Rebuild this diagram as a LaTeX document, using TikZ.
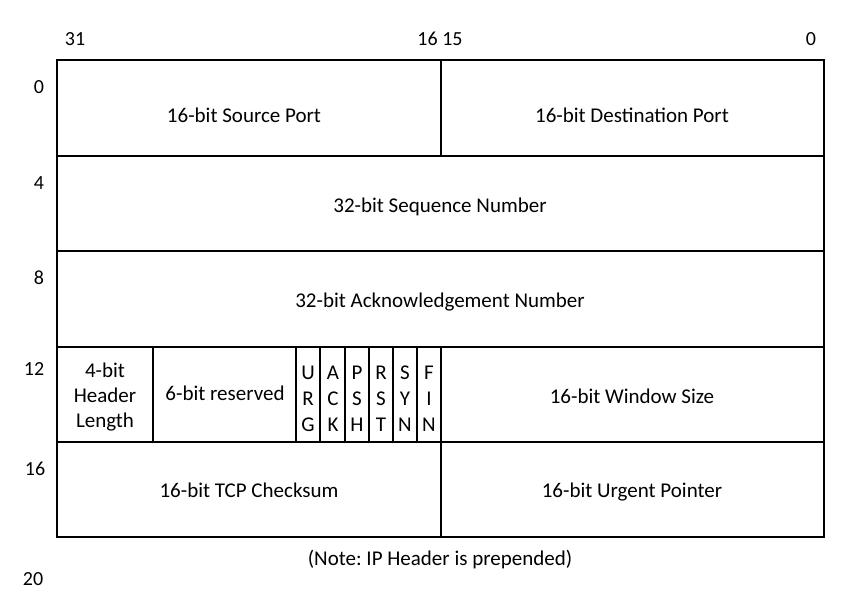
\documentclass[tikz,border=0pt]{standalone}
\usepackage{fontspec}
\setmainfont{Carlito}
\frenchspacing
\begin{document}
\begin{tikzpicture}[x=1pt,y=-1pt,
  field/.style={font=\fontsize{21}{25}\selectfont, align=center, inner sep=0pt},
  flagbox/.style={field, font=\fontsize{21}{26}\selectfont},
  label/.style={field, text height=1.45ex, text depth=0.45ex},
  bitno/.style={font=\fontsize{20}{22}\selectfont, inner sep=0pt, text height=1.45ex, text depth=0pt}]
\useasboundingbox (0,0) rectangle (867,597);
\draw[line width=2pt] (57,60) rectangle (824,537);
\foreach \y in {156,251,347,442}
  \draw[line width=2pt] (57,\y) -- (824,\y);
\foreach \x/\a/\b in {441/60/156, 441/442/537, 153/347/442, 296/347/442, 320/347/442, 345/347/442, 369/347/442, 393/347/442, 417/347/442, 441/347/442}
  \draw[line width=2pt] (\x,\a) -- (\x,\b);
% bit numbers
\node[bitno] (b31) at (75,42) {31};
\node[bitno] (b1615) at (440,42) {16 15};
\node[bitno] (b0) at (811,42) {0};
\foreach \n/\x/\y/\t in {r0/39/90/0, r4/39/186/4, r8/39/281/8, r12/34/372/12, r16/35/472/16, r20/33/582/20}
  \node[bitno] (\n) at (\x,\y) {\t};
% fields
\node[label] (srcport) at (244,120) {16-bit Source Port};
\node[label] (dstport) at (632,120) {16-bit Destination Port};
\node[label] (seqno) at (440,210) {32-bit Sequence Number};
\node[label] (ackno) at (440,305) {32-bit Acknowledgement Number};
\node[field] (hdrlen) at (105,397) {4-bit\\Header\\Length};
\node[label] (reserved) at (225,398) {6-bit reserved};
\foreach \n/\x/\t in {urg/308/{U\\R\\G}, ack/333/{A\\C\\K}, psh/357/{P\\S\\H}, rst/381/{R\\S\\T}, syn/405/{S\\Y\\N}, fin/429/{F\\I\\N}}
  \node[flagbox] (\n) at (\x,399) {\t};
\node[label] (window) at (632,401) {16-bit Window Size};
\node[label] (checksum) at (249,495) {16-bit TCP Checksum};
\node[label] (urgptr) at (632,495) {16-bit Urgent Pointer};
\node[label] (note) at (440,563) {(Note: IP Header is prepended)};
\end{tikzpicture}
\end{document}
